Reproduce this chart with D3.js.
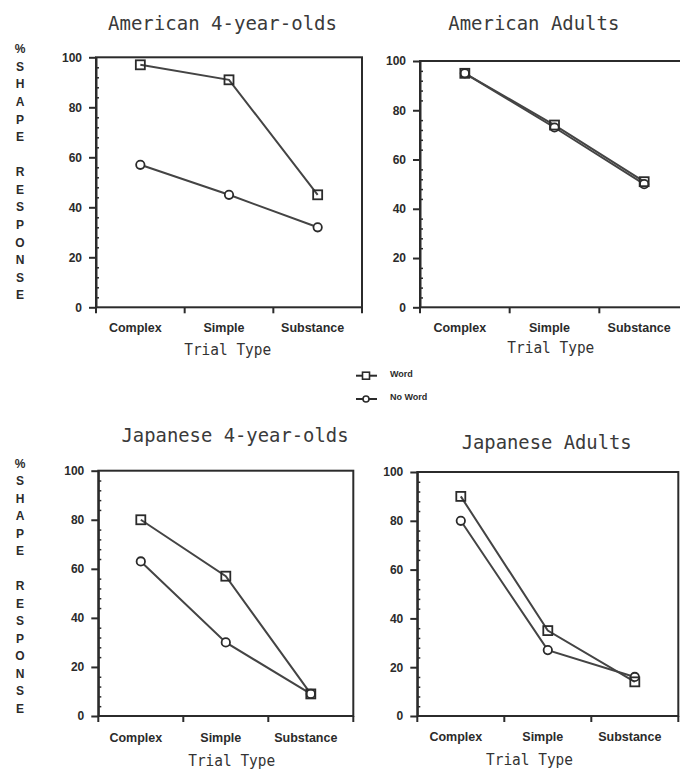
<!DOCTYPE html>
<html>
<head>
<meta charset="utf-8">
<script src="https://cdn.jsdelivr.net/npm/d3@7"></script>
<style>
  html, body { margin: 0; padding: 0; background: #fff; }
  svg { display: block; }
</style>
</head>
<body>
<div id="chart"></div>
<script>
// ---------- data ----------
const categories = ["Complex", "Simple", "Substance"];
const yTickValues = [0, 20, 40, 60, 80, 100];
const seriesNames = ["Word", "No Word"];
const panelTitles = ["American 4-year-olds", "American Adults", "Japanese 4-year-olds", "Japanese Adults"];
const xAxisTitle = "Trial Type";
const yAxisTitle = "%SHAPE RESPONSE";

const americanKidsWord   = [97, 91, 45];
const americanKidsNoWord = [57, 45, 32];
const americanAdultsWord   = [95, 74, 51];
const americanAdultsNoWord = [95, 73, 50];
const japaneseKidsWord   = [80, 57, 9];
const japaneseKidsNoWord = [63, 30, 9];
const japaneseAdultsWord   = [90, 35, 14];
const japaneseAdultsNoWord = [80, 27, 16];

const panelData = [
  [americanKidsWord, americanKidsNoWord],
  [americanAdultsWord, americanAdultsNoWord],
  [japaneseKidsWord, japaneseKidsNoWord],
  [japaneseAdultsWord, japaneseAdultsNoWord]
];

// ---------- layout ----------
const W = 680, H = 772;
const layout = [
  { left: 96,    right: 362,   top: 57.3, bottom: 307.3, title: [222.5, 30, 229], xt: [227.7, 355], yLab: 49,    ySp: 17.57, lab: 331.5 },
  { left: 420,   right: 689,   top: 61,   bottom: 307.3, title: [533.8, 30, 171], xt: [550.8, 353], yLab: null,  ySp: 0,     lab: 331.5 },
  { left: 98.3,  right: 353.3, top: 470.7,bottom: 716,   title: [235, 442.3, 227], xt: [231.7, 766], yLab: 463.3, ySp: 17.5,  lab: 741.5 },
  { left: 417.3, right: 678.3, top: 472,  bottom: 716,   title: [546.7, 449, 170], xt: [529.5, 765], yLab: null,  ySp: 0,     lab: 740.7 }
];

const ink = "#2b2b2b";
const lineInk = "#444";
const monoFont = "'DejaVu Sans Mono', monospace";
const labFont = "'Liberation Sans', Arial, sans-serif";

const svg = d3.select("#chart").append("svg")
  .attr("width", W).attr("height", H);

layout.forEach((L, i) => {
  const g = svg.append("g");
  const x = d3.scaleBand().domain(categories).range([L.left, L.right]).padding(0);
  const y = d3.scaleLinear().domain([0, 100]).range([L.bottom, L.top]);

  // frame (top + right)
  g.append("rect")
    .attr("x", L.left).attr("y", L.top)
    .attr("width", L.right - L.left).attr("height", L.bottom - L.top)
    .attr("fill", "none").attr("stroke", ink).attr("stroke-width", 2);

  // minor y ticks
  const minor = d3.range(0, 101, 4).filter(v => v % 20 !== 0);
  const minorAxis = g.append("g")
    .attr("transform", `translate(${L.left},0)`)
    .call(d3.axisLeft(y).tickValues(minor).tickSize(-3).tickSizeOuter(0).tickFormat(""));
  minorAxis.select(".domain").remove();
  minorAxis.selectAll("line").attr("stroke", ink).attr("stroke-width", 1.5);

  // major y axis
  const yAxis = g.append("g")
    .attr("transform", `translate(${L.left},0)`)
    .call(d3.axisLeft(y).tickValues(yTickValues).tickSize(7).tickSizeOuter(0).tickPadding(7));
  yAxis.select(".domain").attr("stroke", ink).attr("stroke-width", 2);
  yAxis.selectAll("line").attr("stroke", ink).attr("stroke-width", 2);
  yAxis.selectAll("text")
    .attr("font-family", labFont).attr("font-weight", "bold")
    .attr("font-size", 12).attr("fill", ink);

  // x boundary ticks (band edges)
  const bounds = categories.map(c => x(c)).concat([x(categories[categories.length - 1]) + x.bandwidth()]);
  g.selectAll(".xb").data(bounds).enter().append("line")
    .attr("x1", d => d).attr("x2", d => d)
    .attr("y1", L.bottom).attr("y2", L.bottom + 6)
    .attr("stroke", ink).attr("stroke-width", 2);

  // x category labels
  g.selectAll(".xl").data(categories).enter().append("text")
    .attr("x", d => x(d) + x.bandwidth() / 2 - 5)
    .attr("y", L.lab)
    .attr("text-anchor", "middle")
    .attr("font-family", labFont).attr("font-weight", "bold")
    .attr("font-size", 12.5).attr("fill", ink)
    .text(d => d);

  // x axis title
  g.append("text")
    .attr("x", L.xt[0]).attr("y", L.xt[1])
    .attr("text-anchor", "middle")
    .attr("font-family", monoFont).attr("font-size", 15)
    .attr("textLength", 87).attr("lengthAdjust", "spacingAndGlyphs")
    .attr("fill", "#333")
    .text(xAxisTitle);

  // panel title
  g.append("text")
    .attr("x", L.title[0]).attr("y", L.title[1])
    .attr("text-anchor", "middle")
    .attr("font-family", monoFont).attr("font-size", 20)
    .attr("textLength", L.title[2]).attr("lengthAdjust", "spacingAndGlyphs")
    .attr("fill", "#3a3a3a")
    .text(panelTitles[i]);

  // vertical y label (stacked letters)
  if (L.yLab !== null) {
    const chars = yAxisTitle.replace(" ", " ").split("");
    // "%SHAPE RESPONSE" -> % S H A P E _ R E S P O N S E
    g.selectAll(".yl").data(chars).enter().append("text")
      .attr("x", 20)
      .attr("y", (d, k) => L.yLab + k * L.ySp)
      .attr("dy", "0.36em")
      .attr("text-anchor", "middle")
      .attr("font-family", labFont).attr("font-weight", "bold")
      .attr("font-size", 12).attr("fill", ink)
      .text(d => d);
  }

  // series lines
  const line = d3.line().x((d, k) => x(categories[k]) + x.bandwidth() / 2).y(d => y(d));
  panelData[i].forEach((vals, s) => {
    g.append("path").datum(vals)
      .attr("d", line).attr("fill", "none")
      .attr("stroke", lineInk).attr("stroke-width", 2);
  });
  // markers: No Word circles first, then Word squares
  const noWord = panelData[i][1];
  g.selectAll(".c").data(noWord).enter().append("circle")
    .attr("cx", (d, k) => x(categories[k]) + x.bandwidth() / 2)
    .attr("cy", d => y(d))
    .attr("r", 4.2)
    .attr("fill", "#fff").attr("stroke", ink).attr("stroke-width", 1.8);
  const word = panelData[i][0];
  g.selectAll(".s").data(word).enter().append("rect")
    .attr("x", (d, k) => x(categories[k]) + x.bandwidth() / 2 - 4.5)
    .attr("y", d => y(d) - 4.5)
    .attr("width", 9).attr("height", 9)
    .attr("fill", "none").attr("stroke", ink).attr("stroke-width", 1.8);
});

// ---------- legend ----------
const legend = svg.append("g");
const legY = [375.7, 399];
seriesNames.forEach((name, s) => {
  legend.append("line")
    .attr("x1", 356).attr("x2", 377).attr("y1", legY[s]).attr("y2", legY[s])
    .attr("stroke", ink).attr("stroke-width", 2);
  if (s === 0) {
    legend.append("rect").attr("x", 362.5).attr("y", legY[s] - 3.5)
      .attr("width", 7).attr("height", 7)
      .attr("fill", "#fff").attr("stroke", ink).attr("stroke-width", 1.6);
  } else {
    legend.append("circle").attr("cx", 366).attr("cy", legY[s]).attr("r", 3)
      .attr("fill", "#fff").attr("stroke", ink).attr("stroke-width", 1.6);
  }
  legend.append("text")
    .attr("x", 390).attr("y", legY[s] + 1)
    .attr("font-family", labFont).attr("font-weight", "bold")
    .attr("font-size", 9).attr("fill", ink)
    .text(name);
});
</script>
</body>
</html>
